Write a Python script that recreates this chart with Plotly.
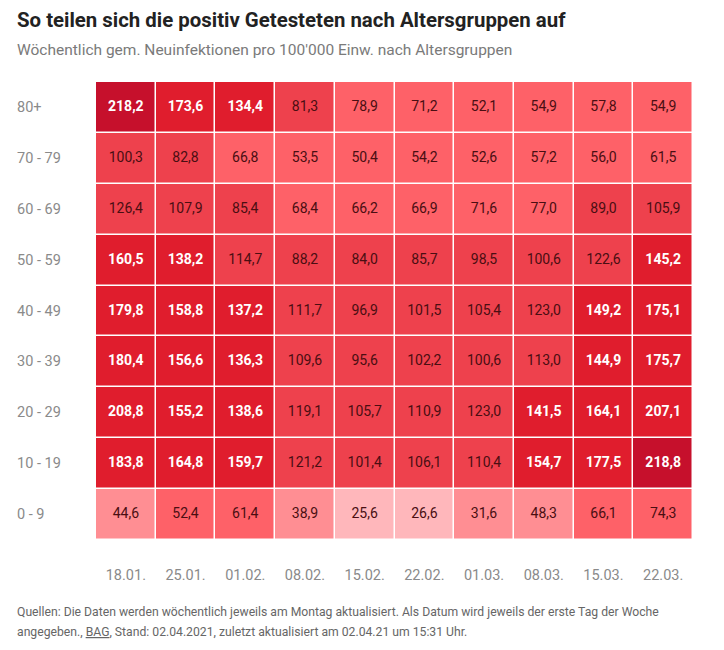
import plotly.graph_objects as go

# Wöchentliche Neuinfektionen pro 100'000 Einw. (BAG)
weeks = ["18.01.", "25.01.", "01.02.", "08.02.", "15.02.", "22.02.", "01.03.", "08.03.", "15.03.", "22.03."]
ages = ["80+", "70 - 79", "60 - 69", "50 - 59", "40 - 49", "30 - 39", "20 - 29", "10 - 19", "0 - 9"]

age_80plus = [218.2, 173.6, 134.4, 81.3, 78.9, 71.2, 52.1, 54.9, 57.8, 54.9]
age_70_79 = [100.3, 82.8, 66.8, 53.5, 50.4, 54.2, 52.6, 57.2, 56.0, 61.5]
age_60_69 = [126.4, 107.9, 85.4, 68.4, 66.2, 66.9, 71.6, 77.0, 89.0, 105.9]
age_50_59 = [160.5, 138.2, 114.7, 88.2, 84.0, 85.7, 98.5, 100.6, 122.6, 145.2]
age_40_49 = [179.8, 158.8, 137.2, 111.7, 96.9, 101.5, 105.4, 123.0, 149.2, 175.1]
age_30_39 = [180.4, 156.6, 136.3, 109.6, 95.6, 102.2, 100.6, 113.0, 144.9, 175.7]
age_20_29 = [208.8, 155.2, 138.6, 119.1, 105.7, 110.9, 123.0, 141.5, 164.1, 207.1]
age_10_19 = [183.8, 164.8, 159.7, 121.2, 101.4, 106.1, 110.4, 154.7, 177.5, 218.8]
age_0_9 = [44.6, 52.4, 61.4, 38.9, 25.6, 26.6, 31.6, 48.3, 66.1, 74.3]

rows = [age_80plus, age_70_79, age_60_69, age_50_59, age_40_49,
        age_30_39, age_20_29, age_10_19, age_0_9]

# stufen der farbskala
thresholds = [30, 50, 80, 130, 210]
colors = ["#ffb7bb", "#ff8e93", "#fe6168", "#ee414d", "#e01d2d", "#c6102c"]


def bin_of(v):
    b = 0
    for t in thresholds:
        if v >= t:
            b += 1
    return b


z = [[bin_of(v) for v in row] for row in rows]

n = len(colors)
colorscale = []
for i, c in enumerate(colors):
    colorscale.append([i / n, c])
    colorscale.append([(i + 1) / n, c])

fig = go.Figure()
fig.add_trace(go.Heatmap(
    x=weeks, y=ages, z=z,
    zmin=-0.5, zmax=n - 0.5,
    colorscale=colorscale, showscale=False,
    xgap=1.5, ygap=1.5, hoverinfo="skip"))

# Beschriftung der Zellen: dunkle Zellen weiss und fett
dark_x, dark_y, dark_t = [], [], []
light_x, light_y, light_t = [], [], []
for age, row in zip(ages, rows):
    for wk, v in zip(weeks, row):
        label = f"{v:.1f}".replace(".", ",")
        if v >= 130:
            dark_x.append(wk); dark_y.append(age); dark_t.append("<b>" + label + "</b>")
        else:
            light_x.append(wk); light_y.append(age); light_t.append(label)

fig.add_trace(go.Scatter(x=dark_x, y=dark_y, text=dark_t, mode="text",
                         textfont=dict(color="white", size=14, family="Roboto"),
                         hoverinfo="skip"))
fig.add_trace(go.Scatter(x=light_x, y=light_y, text=light_t, mode="text",
                         textfont=dict(color="#4a0e12", size=14, family="Roboto"),
                         hoverinfo="skip"))

# Altersgruppen links, linksbuendig
for age in ages:
    fig.add_annotation(x=0, xref="paper", y=age, yref="y", xshift=-81,
                       xanchor="left", text=age, showarrow=False,
                       font=dict(size=14.5, color="#8a8a8a", family="Roboto"))

fig.add_annotation(x=0, xref="paper", xshift=-81, y=1, yref="paper", yshift=62,
                   xanchor="left", yanchor="middle", showarrow=False,
                   text="<b>So teilen sich die positiv Getesteten nach Altersgruppen auf</b>",
                   font=dict(size=20.4, color="#222222", family="Roboto"))
fig.add_annotation(x=0, xref="paper", xshift=-81, y=1, yref="paper", yshift=32,
                   xanchor="left", yanchor="middle", showarrow=False,
                   text="Wöchentlich gem. Neuinfektionen pro 100'000 Einw. nach Altersgruppen",
                   font=dict(size=15.5, color="#7a7a7a", family="Roboto"))

footer = [
    "Quellen: Die Daten werden wöchentlich jeweils am Montag aktualisiert. Als Datum wird jeweils der erste Tag der Woche",
    "angegeben., <span style='text-decoration:underline'>BAG</span>, Stand: 02.04.2021, zuletzt aktualisiert am 02.04.21 um 15:31 Uhr.",
]
for i, line in enumerate(footer):
    fig.add_annotation(x=0, xref="paper", xshift=-81, y=0, yref="paper", yshift=-72 - 20 * i,
                       xanchor="left", yanchor="middle", showarrow=False,
                       text=line, font=dict(size=12.2, color="#666666", family="Roboto"))

fig.update_xaxes(type="category", range=[-0.5, len(weeks) - 0.5],
                 showgrid=False, zeroline=False, showline=False,
                 ticks="", ticklabelstandoff=24,
                 tickfont=dict(size=14.5, color="#8a8a8a", family="Roboto"))
fig.update_yaxes(type="category", range=[len(ages) - 0.5, -0.5], showgrid=False,
                 zeroline=False, showline=False, showticklabels=False)

# die Seite hat 8px Rand, daher etwas kleiner
fig.update_layout(width=716, height=642, showlegend=False,
                  plot_bgcolor="white", paper_bgcolor="white",
                  margin=dict(l=88, r=31, t=74, b=110))

fig.write_html("out.html")
